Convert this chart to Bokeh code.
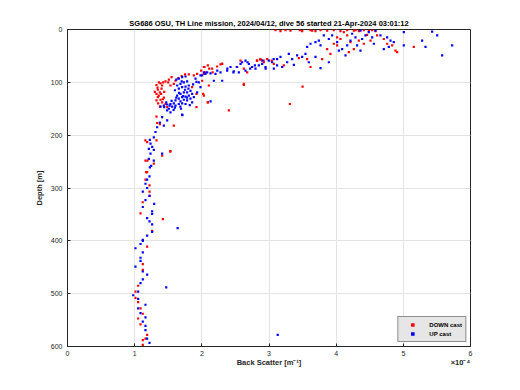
from bokeh.plotting import figure
from bokeh.models import Range1d, Legend, LegendItem, FixedTicker, LinearAxis
from bokeh.embed import file_html
from bokeh.resources import INLINE

TITLE = "SG686 OSU, TH Line mission, 2024/04/12, dive 56 started 21-Apr-2024 03:01:12"
X_LABEL = "Back Scatter [m\u207b\u00b9]"
Y_LABEL = "Depth [m]"
X_TICKS = [0, 1, 2, 3, 4, 5, 6]
Y_TICKS = [0, 100, 200, 300, 400, 500, 600]
SCALE_LABEL = "\u00d710\u207b\u2074"

# Back scatter in units of 1e-4 m^-1, depth in m
down_bs = [
    3.097, 3.171, 3.246, 3.32, 3.459, 3.494, 3.618, 3.643, 3.692, 3.767, 3.866, 3.965, 4.064, 4.164, 4.263,
    4.288, 4.337, 4.412, 4.486, 4.536, 4.585,
    2.576, 2.625, 2.675, 2.824, 2.873, 2.923, 2.973, 3.072, 3.221, 3.444, 3.568, 3.618, 3.791, 3.866, 3.915,
    3.965, 4.015, 4.064, 4.164, 4.213, 4.263, 4.337, 4.412, 4.461, 4.511, 4.61, 4.709, 4.759, 4.834, 4.883,
    4.908, 5.156, 4.188, 4.114, 4.015, 3.5, 2.625,
    1.99, 2.04, 2.11, 2.16, 2.30, 2.82, 2.87, 2.92, 3.04, 2.03,
    1.325, 1.385, 1.424, 1.459, 1.509, 1.409, 1.345, 1.375, 1.325, 1.36, 1.394, 1.345, 1.385, 1.434, 1.325,
    1.409, 1.459, 1.375, 1.484, 1.533, 1.583, 1.608, 1.806, 1.881, 1.93, 2.03, 2.089, 2.154, 2.228, 2.278,
    2.054, 2.005, 2.104, 1.856, 1.92, 2.03, 2.089, 1.92, 2.402, 2.625, 2.303, 2.526, 1.583, 1.533, 1.335,
    1.186, 1.161, 1.285, 3.31, 2.09, 2.02,
    1.34, 1.40, 1.36, 1.30, 1.44, 1.35, 1.42, 1.50, 1.55, 1.65, 1.70, 1.75,
    1.325, 1.375, 1.325, 1.16, 1.53, 1.19, 1.41, 1.17,
    1.186, 1.161, 1.221, 1.221, 1.221, 1.12, 1.087, 1.42, 1.26, 1.186, 1.121, 1.121, 1.052, 1.012, 1.012,
    1.052, 1.087, 1.121, 1.052, 1.087, 1.186, 1.161, 1.121, 1.121,
]
down_depth = [
    1, 3, 1, 2, 1, 3, 1, 2, 3, 1, 2, 1, 3, 1, 2,
    1, 3, 1, 2, 1, 3,
    59, 74, 81, 59, 57, 62, 56, 65, 68, 54, 56, 71, 56, 37, 46,
    27, 30, 18, 11, 24, 37, 21, 27, 10, 21, 11, 18, 27, 30, 40,
    43, 33, 43, 5, 15, 108, 105,
    78, 71, 74, 81, 65, 59, 56, 59, 59, 84,
    105, 102, 100, 98, 95, 106, 114, 119, 122, 125, 122, 128, 133, 129, 134,
    138, 141, 146, 147, 106, 103, 97, 85, 87, 84, 71, 68, 74, 70, 66,
    81, 97, 106, 109, 122, 125, 138, 147, 153, 103, 65, 71, 182, 230, 177,
    213, 248, 254, 141, 138, 122,
    110, 112, 100, 118, 118, 140, 132, 100, 90, 92, 88, 85,
    165, 179, 210, 210, 231, 248, 239, 270,
    270, 284, 295, 307, 315, 327, 348, 359, 381, 411, 444, 455, 485, 496, 508,
    516, 528, 538, 547, 558, 578, 585, 588, 597,
]

up_bs = [
    2.6, 2.65, 2.7, 2.749, 2.799, 2.849, 2.898, 2.948, 2.997, 3.047, 3.072, 3.121, 3.171, 3.196, 3.27,
    3.295, 3.345, 3.37, 3.419, 3.494, 3.543, 3.568, 3.618, 3.692, 3.742, 3.767, 3.816, 3.891, 3.94, 4.015,
    4.04, 4.089, 4.139, 4.164, 4.213, 4.238, 4.288, 4.312, 4.362, 4.387, 4.436, 4.486, 4.536, 4.561, 4.585,
    4.66, 4.709, 4.784, 4.809, 4.858, 5.007, 5.007, 5.28, 5.33, 5.429, 5.504, 5.578, 5.727, 4.759, 4.362,
    3.767, 3.891, 3.692, 3.593,
    2.08, 2.23, 2.38, 2.47, 2.52, 2.68, 2.72, 2.79, 2.9, 2.95, 3.07, 3.12, 1.98, 2.03,
    1.657, 1.707, 1.757, 1.781, 1.732, 1.682, 1.633, 1.657, 1.707, 1.757, 1.806, 1.831, 1.781, 1.732, 1.682,
    1.633, 1.707, 1.757, 1.806, 1.856, 1.657, 1.608, 1.682, 1.732, 1.781, 1.831, 1.881, 1.583, 1.533, 1.484,
    1.434, 1.385, 1.558, 1.608, 1.657, 1.707, 1.757, 1.509, 1.533, 1.484, 1.856, 1.93, 1.98, 1.955, 1.906,
    2.005, 2.054, 2.129, 2.203, 2.278, 2.377, 2.476, 2.551, 2.427, 2.576, 2.65, 2.303, 2.179,
    1.707, 1.409, 1.375, 1.335, 1.31, 1.434, 1.484, 1.285, 1.226, 1.236, 1.261, 1.211, 1.285, 1.236, 1.409,
    1.211, 1.285, 1.246, 1.226, 1.71, 1.82, 2.13,
    1.60, 1.62, 1.70, 1.75, 1.80, 1.66, 1.72, 1.78, 1.62, 1.55, 1.47, 1.52, 1.60, 1.44, 1.58,
    1.68, 1.87, 1.92, 1.69,
    1.221, 1.186, 1.161, 1.186, 1.121, 1.221, 1.161, 1.29, 1.121, 1.26, 1.26, 1.186, 1.221, 1.26, 1.64,
    1.26, 1.186, 1.121, 1.121, 1.087, 1.012, 1.121, 1.087, 1.087, 1.012, 1.121, 1.186, 1.121, 1.087, 1.47,
    1.052, 0.978, 1.052, 1.161, 1.052, 1.087, 1.161, 1.121, 1.161, 1.161, 1.186, 1.221, 3.13,
]
up_depth = [
    62, 59, 65, 71, 74, 68, 65, 71, 59, 62, 74, 56, 52, 71, 62,
    46, 56, 67, 49, 52, 46, 33, 27, 24, 21, 30, 11, 18, 11, 24,
    40, 37, 49, 30, 21, 8, 15, 30, 2, 18, 11, 5, 15, 27, 2,
    11, 37, 33, 21, 24, 5, 30, 21, 33, 4, 11, 49, 30, 15, 40,
    73, 62, 52, 62,
    81, 78, 74, 81, 71, 62, 74, 68, 59, 74, 56, 68, 87, 81,
    93, 90, 89, 98, 100, 103, 106, 112, 109, 108, 106, 116, 119, 119, 122,
    125, 128, 127, 125, 122, 131, 134, 136, 133, 134, 131, 128, 140, 141, 142,
    144, 146, 146, 144, 141, 140, 141, 150, 157, 153, 138, 119, 109, 100, 93,
    87, 84, 83, 84, 81, 78, 79, 81, 71, 65, 78, 97, 97,
    161, 166, 176, 185, 194, 182, 172, 204, 209, 216, 222, 226, 228, 235, 235,
    245, 248, 258, 261, 162, 143, 136,
    115, 95, 98, 114, 112, 120, 126, 129, 129, 135, 138, 144, 148, 147, 152,
    146, 104, 99, 150,
    278, 284, 292, 300, 307, 315, 323, 330, 336, 344, 349, 357, 363, 369, 376,
    383, 390, 398, 400, 406, 414, 422, 432, 438, 449, 458, 464, 473, 480, 488,
    496, 503, 510, 521, 528, 537, 545, 553, 561, 569, 585, 593, 578,
]

# positions (in axis units) where the x-axis title and the exponent note sit
XLABEL_POS = 3.0
SCALE_POS = 5.85

FONT = "Liberation Sans"
TXT = "#262626"

p = figure(width=512, height=382, output_backend="svg", toolbar_location=None,
           x_range=Range1d(0, 6), y_range=Range1d(600, 0),
           min_border_left=67, min_border_right=42, min_border_top=29, min_border_bottom=36)
p.background_fill_color = "white"
p.border_fill_color = "white"
p.outline_line_color = TXT
p.outline_line_width = 1

p.title.text = TITLE
p.title.align = "center"
p.title.text_font = FONT
p.title.text_font_size = "7.5px"
p.title.text_font_style = "bold"
p.title.text_color = "black"
p.title.standoff = 3
p.title.offset = 0

for ax in (p.xaxis[0], p.yaxis[0]):
    ax.axis_line_color = TXT
    ax.major_tick_line_color = TXT
    ax.major_tick_in = 3
    ax.major_tick_out = 0
    ax.minor_tick_line_color = None
    ax.major_label_text_font = FONT
    ax.major_label_text_font_size = "7px"
    ax.major_label_text_color = TXT
    ax.axis_label_text_font = FONT
    ax.axis_label_text_font_size = "7.5px"
    ax.axis_label_text_font_style = "bold"
    ax.axis_label_text_color = TXT

p.xaxis[0].ticker = FixedTicker(ticks=X_TICKS)
p.yaxis[0].ticker = FixedTicker(ticks=Y_TICKS)
p.yaxis[0].axis_label = Y_LABEL
p.xaxis[0].major_label_standoff = 4
p.yaxis[0].major_label_standoff = 5
p.yaxis[0].axis_label_standoff = 4

# second bottom axis carrying the axis title and the x10^-4 note on one line
ax2 = LinearAxis(ticker=FixedTicker(ticks=[XLABEL_POS, SCALE_POS]),
                 major_label_overrides={XLABEL_POS: X_LABEL, SCALE_POS: SCALE_LABEL})
ax2.axis_line_color = None
ax2.major_tick_line_color = None
ax2.minor_tick_line_color = None
ax2.major_label_standoff = -7
ax2.major_label_text_font = FONT
ax2.major_label_text_font_size = "7.5px"
ax2.major_label_text_font_style = "bold"
ax2.major_label_text_color = TXT
p.add_layout(ax2, "below")

p.xgrid.grid_line_color = "#e3e3e3"
p.ygrid.grid_line_color = "#e3e3e3"

r_down = p.scatter(down_bs, down_depth, marker="square", size=2.2, color="#ff0000", line_width=0)
r_up = p.scatter(up_bs, up_depth, marker="square", size=2.2, color="#0000ff", line_width=0)

legend = Legend(items=[LegendItem(label="DOWN cast", renderers=[r_down]),
                       LegendItem(label="UP cast", renderers=[r_up])],
                location="bottom_right")
legend.label_text_font = FONT
legend.label_text_font_size = "6px"
legend.label_text_font_style = "bold"
legend.label_text_color = "black"
legend.glyph_height = 9
legend.glyph_width = 22
legend.label_height = 9
legend.spacing = 0
legend.padding = 3
legend.margin = 4
legend.label_standoff = 6
legend.background_fill_color = "#e6e6e6"
legend.background_fill_alpha = 1
legend.border_line_color = "#333333"
p.add_layout(legend)

html = file_html(p, INLINE)
open("out.html", "w").write(html)
